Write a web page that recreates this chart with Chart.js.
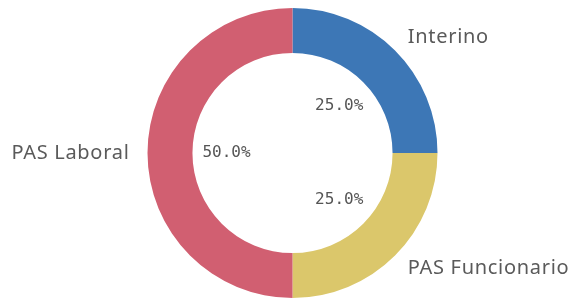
<!DOCTYPE html>
<html>
<head>
<meta charset="utf-8">
<script src="https://cdn.jsdelivr.net/npm/chart.js@4/dist/chart.umd.min.js"></script>
<style>
html,body{margin:0;padding:0;background:#fff;}
#wrap{width:578px;height:304px;position:relative;}
</style>
</head>
<body>
<div id="wrap"><canvas id="c" width="578" height="304"></canvas></div>
<script>
const categories = ["Interino", "PAS Funcionario", "PAS Laboral"];
const values = [25, 25, 50];
const percentLabels = ["25.0%", "25.0%", "50.0%"];
const colors = ["#3d77b6", "#dbc76b", "#d15f71"];

const labelPlugin = {
  id: 'sliceLabels',
  afterDatasetsDraw(chart) {
    const ctx = chart.ctx;
    const meta = chart.getDatasetMeta(0);
    meta.data.forEach((arc, i) => {
      const mid = (arc.startAngle + arc.endAngle) / 2;
      const cx = arc.x, cy = arc.y;
      const cos = Math.cos(mid), sin = Math.sin(mid);
      // percentage inside hole
      const rIn = arc.innerRadius * 0.66;
      ctx.save();
      ctx.fillStyle = '#555';
      ctx.font = '16px "DejaVu Sans Mono"';
      ctx.textAlign = 'center';
      ctx.textBaseline = 'middle';
      ctx.fillText(percentLabels[i], cx + cos * rIn, cy + sin * rIn);
      // category outside
      const rOut = arc.outerRadius + 18;
      ctx.fillStyle = '#5a5a5a';
      ctx.font = '20px "Noto Sans"';
      ctx.letterSpacing = '0.7px';
      ctx.textAlign = cos >= 0 ? 'left' : 'right';
      ctx.fillText(categories[i], cx + cos * rOut, cy + sin * rOut);
      ctx.restore();
    });
  }
};

new Chart(document.getElementById('c'), {
  type: 'doughnut',
  data: {
    labels: categories,
    datasets: [{
      data: values,
      backgroundColor: colors,
      borderWidth: 0
    }]
  },
  options: {
    responsive: false,
    animation: false,
    cutout: '69%',
    layout: { padding: { top: 8, bottom: 6, left: 7, right: 0 } },
    plugins: { legend: { display: false }, tooltip: { enabled: false } }
  },
  plugins: [labelPlugin]
});
</script>
</body>
</html>
